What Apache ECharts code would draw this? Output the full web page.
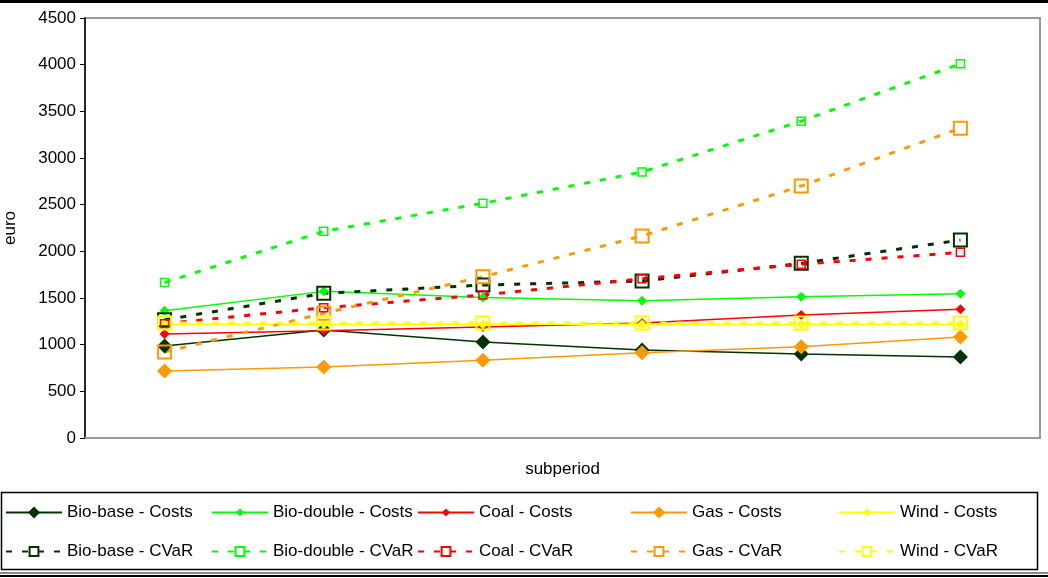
<!DOCTYPE html>
<html>
<head>
<meta charset="utf-8">
<title>Costs and CVaR per subperiod</title>
<script src="https://cdn.jsdelivr.net/npm/echarts@6/dist/echarts.min.js"></script>
<style>
  html, body { margin: 0; padding: 0; background: #fff; }
  #chart { width: 1048px; height: 578px; }
</style>
</head>
<body>
<div id="chart"></div>
<script>
// Subperiods on the x axis (labels are not shown)
const subperiods = ['1', '2', '3', '4', '5', '6'];

// Expected costs per technology (euro)
const bioBaseCosts   = [986, 1157, 1028, 943, 900, 868];
const bioDoubleCosts = [1364, 1571, 1505, 1471, 1514, 1546];
const coalCosts      = [1114, 1150, 1190, 1232, 1318, 1379];
const gasCosts       = [718, 761, 832, 914, 979, 1082];
const windCosts      = [1220, 1220, 1220, 1220, 1220, 1220];

// CVaR per technology (euro)
const bioBaseCVaR   = [1266, 1550, 1639, 1682, 1871, 2121];
const bioDoubleCVaR = [1665, 2215, 2515, 2850, 3395, 4010];
const coalCVaR      = [1225, 1396, 1532, 1707, 1861, 1989];
const gasCVaR       = [921, 1336, 1728, 2165, 2700, 3320];
const windCVaR      = [1232, 1232, 1232, 1232, 1232, 1232];

// Y axis range
const yMin = 0, yMax = 4500, yStep = 500;

const FONT = '"Liberation Sans", Arial, sans-serif';
const C = {
  bioBase: '#003300',
  bioDouble: '#00ff00',
  coal: '#ff0000',
  gas: '#ff9900',
  wind: '#ffff00'
};

function costSeries(name, data, color, size) {
  return {
    name, type: 'line', data,
    symbol: 'diamond', symbolSize: size, showSymbol: true,
    lineStyle: { color, width: 1.5 },
    itemStyle: { color },
    emphasis: { disabled: true }
  };
}
function cvarSeries(name, data, color, size, bw) {
  return {
    name, type: 'line', data,
    symbol: 'rect', symbolSize: size, showSymbol: true,
    lineStyle: { color, width: 3, type: [6, 10] },
    itemStyle: { color: 'rgba(255,255,255,0)', borderColor: color, borderWidth: bw },
    emphasis: { disabled: true }
  };
}

const series = [
  costSeries('Bio-base - Costs', bioBaseCosts, C.bioBase, 15),
  costSeries('Bio-double - Costs', bioDoubleCosts, C.bioDouble, 10),
  costSeries('Coal - Costs', coalCosts, C.coal, 10),
  costSeries('Gas - Costs', gasCosts, C.gas, 15),
  costSeries('Wind - Costs', windCosts, C.wind, 10),
  cvarSeries('Bio-base - CVaR', bioBaseCVaR, C.bioBase, 13, 2),
  cvarSeries('Bio-double - CVaR', bioDoubleCVaR, C.bioDouble, 8, 1.5),
  cvarSeries('Coal - CVaR', coalCVaR, C.coal, 8, 1.5),
  cvarSeries('Gas - CVaR', gasCVaR, C.gas, 13, 2),
  cvarSeries('Wind - CVaR', windCVaR, C.wind, 13, 2)
];

// Legend laid out as two rows of five columns
const colLeft = [5, 211, 417, 630, 838];
const rowTop = [504, 543];
const legendIconH = [15, 10, 10, 15, 10, 11, 11, 11, 11, 11];
const legends = series.map((s, i) => ({
  data: [s.name],
  left: colLeft[i % 5],
  top: rowTop[Math.floor(i / 5)],
  padding: 0,
  itemWidth: 56,
  itemHeight: legendIconH[i],
  itemGap: 0,
  selectedMode: false,
  textStyle: { fontFamily: FONT, fontSize: 17, color: '#000', padding: [0, 0, 0, 0] }
}));

const chart = echarts.init(document.getElementById('chart'), null, { renderer: 'canvas' });
chart.setOption({
  animation: false,
  backgroundColor: '#fff',
  textStyle: { fontFamily: FONT },
  grid: {
    left: 85, right: 8, top: 18, bottom: 140,
    containLabel: false,
    outerBoundsMode: 'none',
    show: true, borderColor: '#999', borderWidth: 2, backgroundColor: 'transparent'
  },
  legend: legends,
  xAxis: {
    type: 'category',
    data: subperiods,
    boundaryGap: true,
    name: 'subperiod',
    nameLocation: 'middle',
    nameGap: 23,
    nameTextStyle: { fontFamily: FONT, fontSize: 17, color: '#000' },
    axisLine: { show: true, lineStyle: { color: '#999', width: 2 } },
    axisTick: { show: false },
    axisLabel: { show: false },
    splitLine: { show: false }
  },
  yAxis: {
    type: 'value',
    min: yMin, max: yMax, interval: yStep,
    name: 'euro',
    nameLocation: 'middle',
    nameRotate: 90,
    nameGap: 66,
    nameTextStyle: { fontFamily: FONT, fontSize: 17, color: '#000' },
    axisLine: { show: true, lineStyle: { color: '#000', width: 1.5 } },
    axisTick: { show: true, inside: false, length: 5, lineStyle: { color: '#000', width: 1 } },
    axisLabel: { fontFamily: FONT, fontSize: 17, color: '#000', margin: 9, formatter: v => String(v) },
    splitLine: { show: false }
  },
  series,
  graphic: [
    // top rule
    { type: 'rect', left: 0, top: 0, shape: { width: 1048, height: 3 }, style: { fill: '#000' }, silent: true },
    // legend frame
    { type: 'rect', shape: { x: 1.5, y: 492.5, width: 1036, height: 77 },
      style: { fill: 'none', stroke: '#000', lineWidth: 1.5 }, silent: true, z: -1 },
    // bottom double rule
    { type: 'rect', left: 0, top: 572, shape: { width: 1048, height: 2 }, style: { fill: '#888' }, silent: true },
    { type: 'rect', left: 0, top: 575, shape: { width: 1048, height: 2 }, style: { fill: '#000' }, silent: true }
  ]
});
</script>
</body>
</html>
